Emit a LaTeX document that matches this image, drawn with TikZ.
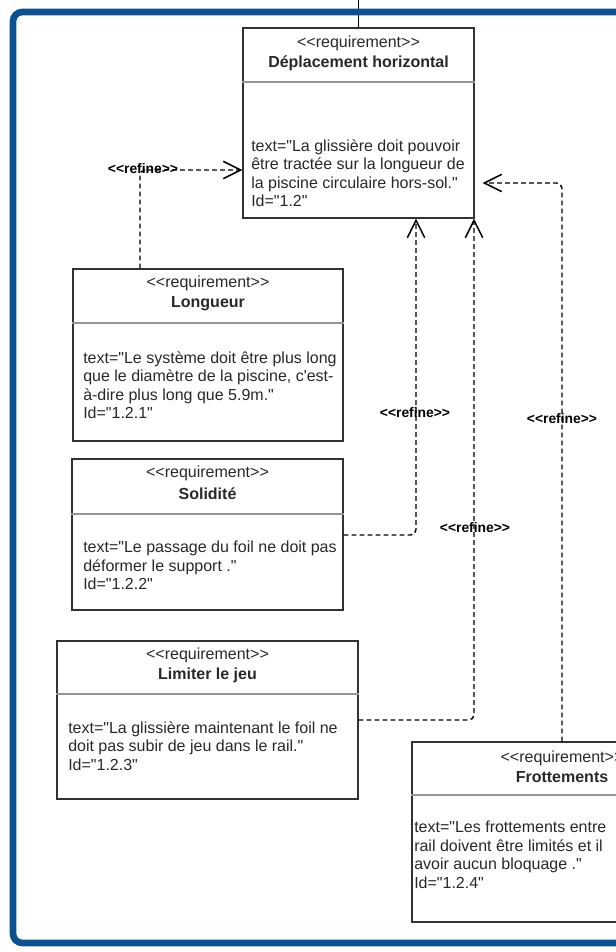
\documentclass[tikz,border=0pt]{standalone}
\usepackage{fontspec}
\setmainfont{Liberation Sans}[Ligatures=TeXOff]
\usepackage{tikz}
\usetikzlibrary{arrows.meta,fit}
\definecolor{umlblue}{RGB}{12,82,144}
\definecolor{boxgray}{RGB}{50,50,50}
\definecolor{divgray}{RGB}{150,150,150}
\definecolor{textgray}{RGB}{40,40,40}

\begin{document}
\begin{tikzpicture}[
   x=0.75pt, y=-0.75pt,
   reqbox/.style={draw=boxgray, line width=1.1pt, inner sep=0pt},
   divider/.style={draw=divgray, line width=0.9pt},
   stereo/.style={font=\fontsize{12}{14}\selectfont, text=textgray,
      inner sep=0pt},
   reqname/.style={font=\fontsize{12}{14}\selectfont\bfseries, text=textgray,
      inner sep=0pt},
   body/.style={font=\fontsize{12}{13.9}\selectfont, text=textgray,
      align=left, anchor=north west, inner sep=0pt},
   refine/.style={-{Straight Barb[length=13pt, width=13pt]}, line width=1.1pt,
      dash pattern=on 3.5pt off 2.5pt, rounded corners=4pt},
   lab/.style={font=\fontsize{10.4}{12}\selectfont\bfseries, inner sep=1pt},
   outerframe/.style={draw=umlblue, line width=5pt, rounded corners=7pt}
]
\useasboundingbox (0,0) rectangle (615,952);

% requirement boxes
\node[reqbox, fit={(243,28) (474,218)}] (horiz) {};
\draw[divider] (horiz.west |- 0,82) -- (horiz.east |- 0,82);
\node[stereo] (horizHead) at (358.5,43) {<<requirement>>};
\node[reqname] (horizName) at (358.5,63) {Déplacement horizontal};
\node[body] (horizText) at (251,139)
   {text="La glissière doit pouvoir\\
    être tractée sur la longueur de\\
    la piscine circulaire hors-sol."\\
    Id="1.2"};

\node[reqbox, fit={(73,269) (343,441)}] (longueur) {};
\draw[divider] (longueur.west |- 0,323) -- (longueur.east |- 0,323);
\node[stereo] (longueurHead) at (208,283.5) {<<requirement>>};
\node[reqname] (longueurName) at (208,303.5) {Longueur};
\node[body] (longueurText) at (83,351)
   {text="Le système doit être plus long\\
    que le diamètre de la piscine, c'est-\\
    à-dire plus long que 5.9m."\\
    Id="1.2.1"};

\node[reqbox, fit={(72,459) (343,610)}] (solidite) {};
\draw[divider] (solidite.west |- 0,514) -- (solidite.east |- 0,514);
\node[stereo] (soliditeHead) at (207.5,473) {<<requirement>>};
\node[reqname] (soliditeName) at (207.5,494) {Solidité};
\node[body] (soliditeText) at (83,541)
   {text="Le passage du foil ne doit pas\\
    déformer le support ."\\
    Id="1.2.2"};

\node[reqbox, fit={(57,641) (358,799)}] (limiter) {};
\draw[divider] (limiter.west |- 0,694) -- (limiter.east |- 0,694);
\node[stereo] (limiterHead) at (207.5,655) {<<requirement>>};
\node[reqname] (limiterName) at (207.5,675) {Limiter le jeu};
\node[body] (limiterText) at (68,721)
   {text="La glissière maintenant le foil ne\\
    doit pas subir de jeu dans le rail."\\
    Id="1.2.3"};

\node[reqbox, fit={(412,742) (712,922)}] (frott) {};
\draw[divider] (frott.west |- 0,795) -- (frott.east |- 0,795);
\node[stereo] (frottHead) at (562,758) {<<requirement>>};
\node[reqname] (frottName) at (562,777) {Frottements};
\node[body] (frottText) at (414,821)
   {text="Les frottements entre\\
    rail doivent être limités et il\\
    avoir aucun bloquage ."\\
    Id="1.2.4"};

% refine links
\coordinate (bendA) at (140,170);
\coordinate (bendB) at (416,535);
\coordinate (bendC) at (474,720);
\coordinate (bendD) at (562,183);
\coordinate (topEnd) at (358.5,0);

\draw[line width=0.8pt] (horiz.north) -- (topEnd);
\draw[refine] (longueur.north -| bendA) |- (horiz.west |- bendA);
\draw[refine] (solidite.east |- bendB) -| (horiz.south -| bendB);
\draw[refine] (limiter.east |- bendC) -| (horiz.south -| bendC);
\draw[refine, shorten >=6pt] (frott.north) |- (horiz.east |- bendD);

\node[lab] (refA) at (143,169) {<<refine>>};
\node[lab] (refB) at (415,413) {<<refine>>};
\node[lab] (refC) at (475,528) {<<refine>>};
\node[lab] (refD) at (562,419) {<<refine>>};

% outer frame
\draw[outerframe] (660,12) -- (13,12) -- (13,943) -- (660,943);
\end{tikzpicture}
\end{document}
